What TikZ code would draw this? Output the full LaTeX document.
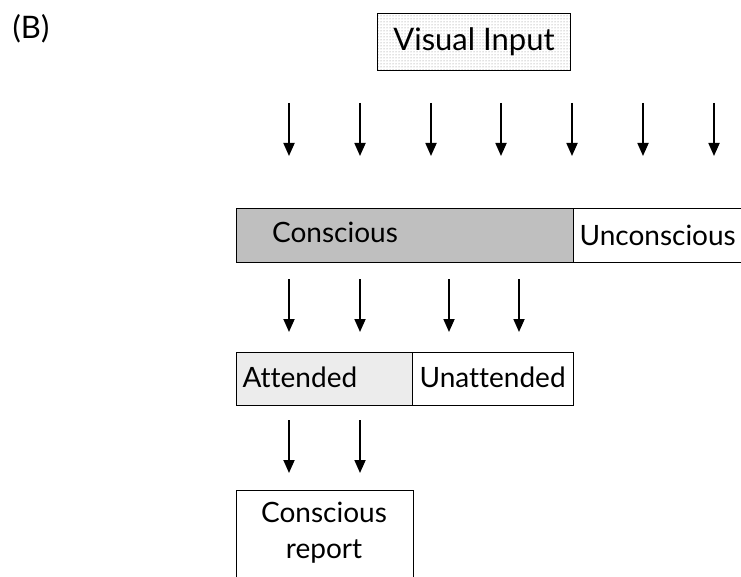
\documentclass[tikz,border=0pt]{standalone}
\usepackage{fontspec}
\setmainfont[Ligatures=NoCommon]{Lato}
\usetikzlibrary{arrows.meta,patterns}

\tikzset{
    stage/.style={draw, line width=1pt, anchor=north west, inner sep=0pt},
    caption/.style={font=\fontsize{28}{36}\selectfont},
    flow/.style={line width=1.8pt, -{Triangle[length=13pt,width=11pt]}},
}

\begin{document}
\begin{tikzpicture}[x=1pt,y=-1pt]
    \useasboundingbox (0,0) rectangle (741,577);
    \clip (0,0) rectangle (741,577);

    \node[font=\fontsize{31}{36}\selectfont] (label) at (31,29) {(B)};

    \node[stage, minimum width=193pt, minimum height=57pt, pattern=dots, pattern color=gray] (input) at (377,13) {};
    \node[font=\fontsize{31}{36}\selectfont] (inputtext) at (input.center) {Visual Input};

    \node[stage, fill=gray!50, minimum width=337pt, minimum height=54pt] (C) at (236,208) {};
    \node[caption] (Ctext) at (335,232) {Conscious};
    \node[stage, fill=white, minimum width=180pt, minimum height=54pt] (U) at (573,208) {};
    \node[caption, anchor=west] (Utext) at (576,235) {Unconscious};

    \node[stage, fill=gray!15, minimum width=176pt, minimum height=53pt] (A) at (236,352) {};
    \node[caption, anchor=west] (Atext) at (239,377) {Attended};
    \node[stage, fill=white, minimum width=161pt, minimum height=53pt] (N) at (412,352) {};
    \node[caption, anchor=west] (Ntext) at (416,377) {Unattended};

    \node[stage, fill=white, minimum width=177pt, minimum height=100pt] (R) at (236,490) {};
    \node[caption, align=center] (Rtext) at (324,533) {Conscious\\report};

    % arrows into the first split
    \foreach \x [count=\i] in {289,360,431,501,572,643,714} {
        \coordinate (a\i) at (\x,103);
        \coordinate (b\i) at (\x,156);
        \draw[flow] (a\i) -- (b\i);
    }
    % arrows into the second split
    \foreach \x [count=\i] in {289,360,449,519} {
        \coordinate (c\i) at (\x,279);
        \coordinate (d\i) at (\x,332);
        \draw[flow] (c\i) -- (d\i);
    }
    % arrows into the report
    \foreach \x [count=\i] in {289,360} {
        \coordinate (e\i) at (\x,420);
        \coordinate (f\i) at (\x,473);
        \draw[flow] (e\i) -- (f\i);
    }
\end{tikzpicture}
\end{document}
